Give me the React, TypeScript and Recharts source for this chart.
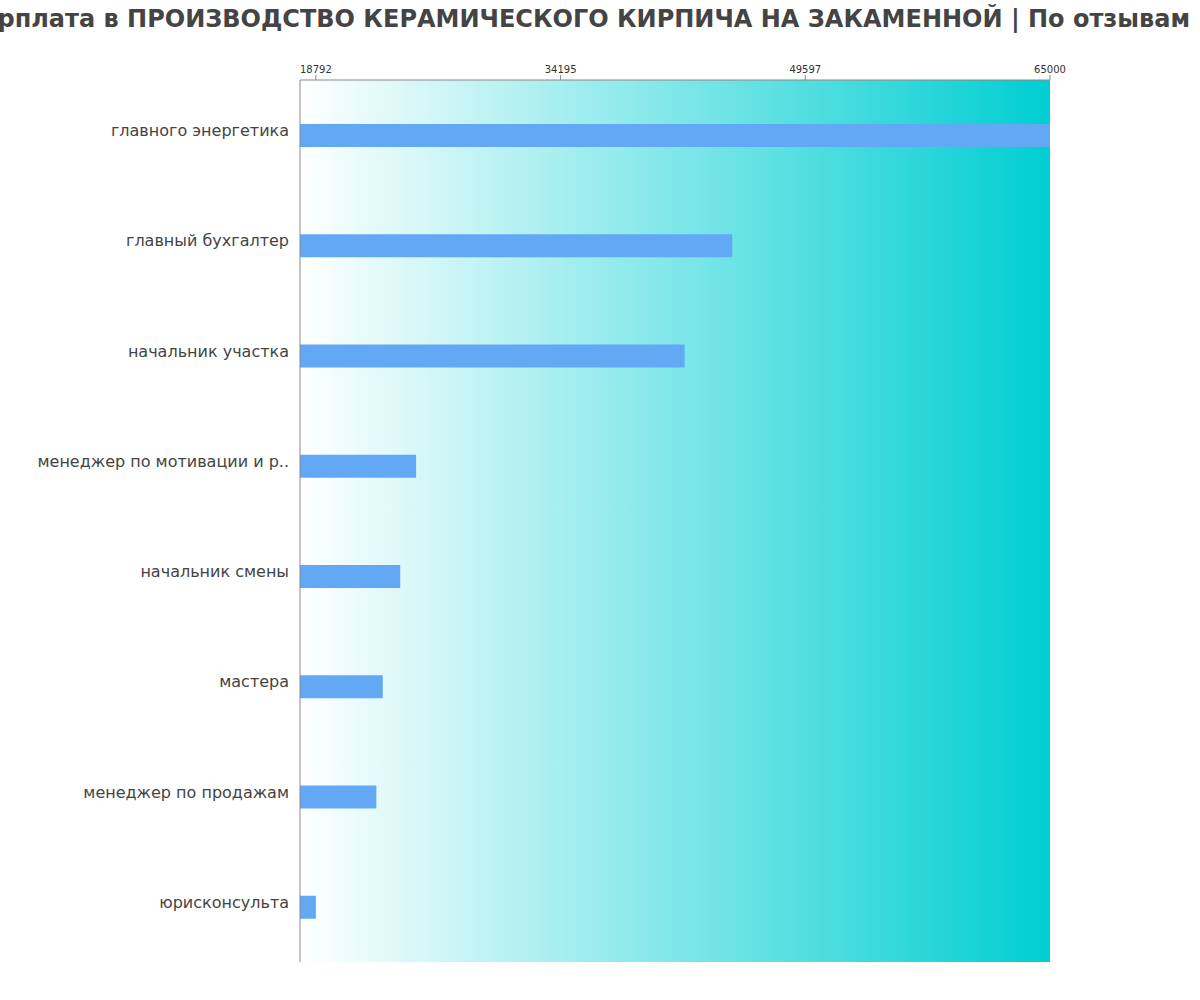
import { BarChart, Bar, XAxis, YAxis, ReferenceArea } from "recharts";

const titleText = "Зарплата в ПРОИЗВОДСТВО КЕРАМИЧЕСКОГО КИРПИЧА НА ЗАКАМЕННОЙ | По отзывам";

const positions = [
  "главного энергетика",
  "главный бухгалтер",
  "начальник участка",
  "менеджер по мотивации и р..",
  "начальник смены",
  "мастера",
  "менеджер по продажам",
  "юрисконсульта",
];

const salaries = [65000, 45000, 42000, 25100, 24100, 23000, 22600, 18792];

const xTicks = [18792, 34195, 49597, 65000];
const xDomain = [17792, 65000];

const rows = positions.map((name, i) => ({ name, value: salaries[i] }));

const font = "DejaVu Sans, sans-serif";

function CategoryTick(props: any) {
  const { x, y, payload } = props;
  return (
    <text x={x} y={y} dy={1} textAnchor="end" fontSize={16} fill="#444" fontFamily={font}>
      {payload.value}
    </text>
  );
}

export default function App() {
  return (
    <div style={{ position: "absolute", left: 0, top: 0, width: 1200, height: 1000, background: "#fff" }}>
      <svg width={0} height={0} style={{ position: "absolute" }}>
        <defs>
          <linearGradient id="bgFade" x1="0" y1="0" x2="1" y2="0">
            <stop offset="0%" stopColor="#ffffff" />
            <stop offset="100%" stopColor="#00ced1" />
          </linearGradient>
        </defs>
      </svg>
      <svg width={1200} height={40} style={{ position: "absolute", left: 0, top: 0 }}>
        <text x={1190} y={27} textAnchor="end" fontSize={24} fontWeight="bold" fill="#444" fontFamily={font}>
          {titleText}
        </text>
      </svg>
      <div style={{ position: "absolute", left: 0, top: 0 }}>
        <BarChart
          width={1200}
          height={1000}
          data={rows}
          layout="vertical"
          margin={{ top: 60, right: 150, bottom: 38, left: 0 }}
          barSize={23}
        >
          <ReferenceArea
            x1={xDomain[0]}
            x2={xDomain[1]}
            fill="url(#bgFade)"
            fillOpacity={1}
            stroke="none"
            ifOverflow="visible"
          />
          <XAxis
            type="number"
            orientation="top"
            domain={xDomain}
            ticks={xTicks}
            allowDataOverflow
            height={20}
            tickSize={5}
            tick={{ fontSize: 10, fill: "#333", fontFamily: font }}
            stroke="#888"
          />
          <YAxis
            type="category"
            dataKey="name"
            width={300}
            tickLine={false}
            tickMargin={5}
            tick={<CategoryTick />}
            stroke="#888"
          />
          <Bar dataKey="value" fill="#63a8f4" isAnimationActive={false} />
        </BarChart>
      </div>
    </div>
  );
}
